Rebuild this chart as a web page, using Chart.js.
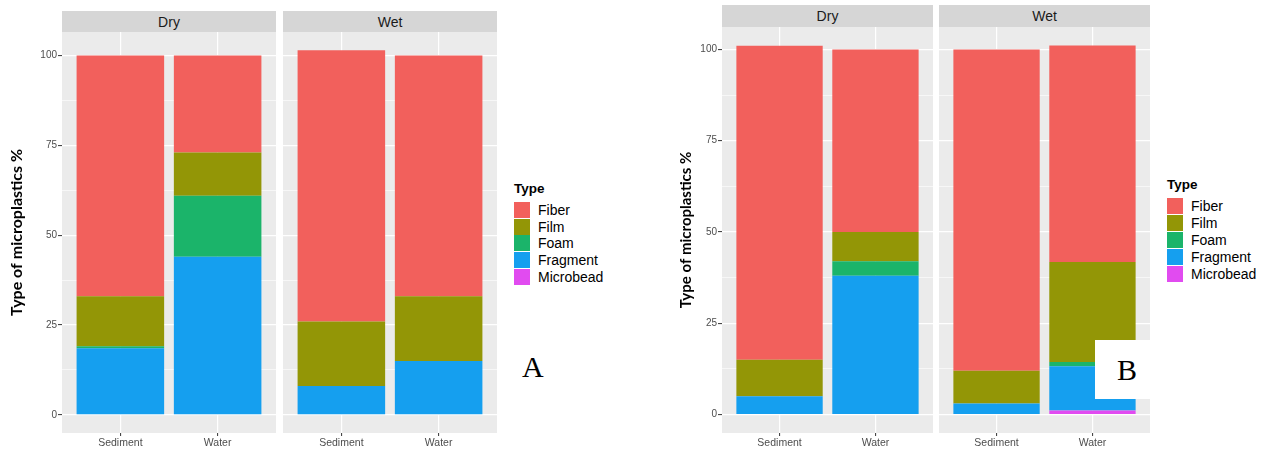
<!DOCTYPE html>
<html>
<head>
<meta charset="utf-8">
<script src="https://cdn.jsdelivr.net/npm/chart.js@4.4.1/dist/chart.umd.min.js"></script>
<style>
html,body{margin:0;padding:0;background:#fff;}
body{width:1262px;height:450px;position:relative;overflow:hidden;font-family:"Liberation Sans",Arial,sans-serif;}
canvas{position:absolute;}
.strip{position:absolute;background:#D6D6D6;color:#1A1A1A;font-size:14px;text-align:center;}
.ltitle{position:absolute;font-weight:bold;font-size:13.5px;color:#000;line-height:16px;}
.key{position:absolute;width:16px;height:16px;}
.klab{position:absolute;font-size:14px;color:#000;line-height:16px;white-space:nowrap;}
.big{position:absolute;font-family:"Liberation Serif","Times New Roman",serif;font-size:30px;line-height:30px;color:#000;background:#fff;}
</style>
</head>
<body>
<script>
// ---------------- data ----------------
const groups = ['Sediment', 'Water'];
const conditions = ['Dry', 'Wet'];
const types = ['Fiber', 'Film', 'Foam', 'Fragment', 'Microbead'];
const typeColors = ['#F2605C', '#939606', '#1BB46A', '#159FEF', '#E14BF0'];
const yMajorTicks = [0, 25, 50, 75, 100];
const yMinorTicks = [12.5, 37.5, 62.5, 87.5];
const yTitle = 'Type of microplastics %';
const legendTitle = 'Type';
const figureLabels = ['A', 'B'];

// each array: [Dry Sediment, Dry Water, Wet Sediment, Wet Water]  (%)
const fiberA     = [67, 27, 75.5, 67];
const filmA      = [13.9, 12, 18, 18];
const foamA      = [0.6, 17, 0, 0];
const fragmentA  = [18.5, 44, 8, 15];
const microbeadA = [0, 0, 0, 0];

const fiberB     = [86, 50, 88, 59.3];
const filmB      = [10, 8, 9, 27.4];
const foamB      = [0, 4, 0, 1.2];
const fragmentB  = [5, 38, 3, 12.1];
const microbeadB = [0, 0, 0, 1.1];

// ---------------- layout ----------------
const PANEL_BOTTOM = 433;
const XAXIS_H = 18;
const figures = [
  { series: [fiberA, filmA, foamA, fragmentA, microbeadA],
    panelTop: 32, stripTop: 11, stripH: 21,
    dryLeft: 0, axisW: 62, panelW: 214, wetLeft: 283,
    titleSize: 16, titlePad: 7,
    legX: 514, legTitleY: 181, legKeyY: 202, legStep: 16.7,
    label: {x: 522, y: 352, w: 26, h: 30, padL: 0} },
  { series: [fiberB, filmB, foamB, fragmentB, microbeadB],
    panelTop: 27, stripTop: 5, stripH: 22,
    dryLeft: 670, axisW: 52, panelW: 211, wetLeft: 939,
    titleSize: 15, titlePad: 7,
    legX: 1167, legTitleY: 177, legKeyY: 198, legStep: 17,
    label: {x: 1095, y: 340, w: 68, h: 59, padL: 22} }
];

const panelBg = {
  id: 'panelBg',
  beforeDraw(c) {
    const a = c.chartArea, ctx = c.ctx;
    ctx.save();
    ctx.fillStyle = '#EBEBEB';
    ctx.fillRect(a.left, a.top, a.right - a.left, a.bottom - a.top);
    ctx.restore();
  }
};

function el(tag, cls, style, text) {
  const e = document.createElement(tag);
  if (cls) e.className = cls;
  Object.assign(e.style, style);
  if (text !== undefined) e.textContent = text;
  document.body.appendChild(e);
  return e;
}

const isMajor = v => yMajorTicks.includes(v);
const noPad = s => { s.paddingTop = 0; s.paddingBottom = 0; s.paddingLeft = 0; s.paddingRight = 0; };

function makeFacet(fig, facetIdx, yMin, yMax) {
  const showAxis = facetIdx === 0;
  const left = showAxis ? fig.dryLeft : fig.wetLeft;
  const cw = showAxis ? (fig.axisW + fig.panelW) : fig.panelW;
  const ch = PANEL_BOTTOM - fig.panelTop + XAXIS_H;
  const cv = document.createElement('canvas');
  cv.width = cw; cv.height = ch;
  cv.style.left = left + 'px'; cv.style.top = fig.panelTop + 'px';
  cv.style.width = cw + 'px'; cv.style.height = ch + 'px';
  document.body.appendChild(cv);

  const datasets = types.map((t, i) => ({
    label: t,
    backgroundColor: typeColors[i],
    borderWidth: 0,
    stack: 's',
    categoryPercentage: 0.9,
    barPercentage: 1,
    data: groups.map((g, j) => ({ x: j + 1, y: fig.series[i][facetIdx * 2 + j] }))
  })).reverse();

  new Chart(cv, {
    type: 'bar',
    data: { datasets },
    options: {
      responsive: false, animation: false, devicePixelRatio: 1,
      layout: { padding: 0 },
      plugins: { legend: { display: false }, tooltip: { enabled: false } },
      scales: {
        x: {
          type: 'linear', min: 0.4, max: 2.6, offset: false,
          afterBuildTicks: s => { s.ticks = groups.map((g, j) => ({ value: j + 1 })); },
          afterFit: s => { s.height = XAXIS_H; noPad(s); },
          ticks: { callback: v => groups[v - 1], color: '#4D4D4D', autoSkip: false, maxRotation: 0,
                   padding: 1, font: { family: 'Liberation Sans', size: 10.5 } },
          grid: { offset: false, color: '#FFFFFF', lineWidth: 1.2, tickColor: '#333333', tickWidth: 1, tickLength: 3 },
          border: { display: false }
        },
        y: {
          type: 'linear', stacked: true, min: yMin, max: yMax,
          afterBuildTicks: s => { s.ticks = yMajorTicks.concat(yMinorTicks).sort((a, b) => a - b).map(v => ({ value: v })); },
          afterFit: s => { s.width = showAxis ? fig.axisW : 0; noPad(s); },
          ticks: { display: showAxis, autoSkip: false, padding: 1, color: '#4D4D4D',
                   font: { family: 'Liberation Sans', size: 10 },
                   callback: v => isMajor(v) ? String(v) : '' },
          grid: { offset: false, color: '#FFFFFF',
                  lineWidth: c => isMajor(c.tick.value) ? 1.2 : 0.6,
                  tickColor: c => isMajor(c.tick.value) ? '#333333' : 'rgba(0,0,0,0)',
                  tickWidth: 1, tickLength: 4, drawTicks: showAxis },
          border: { display: false },
          title: { display: showAxis, text: yTitle, color: '#000',
                   font: { family: 'Lato', weight: 'bold', size: fig.titleSize },
                   padding: { top: fig.titlePad, bottom: 0 } }
        }
      }
    },
    plugins: [panelBg]
  });

  // facet strip
  const px = showAxis ? fig.dryLeft + fig.axisW : fig.wetLeft;
  el('div', 'strip', { left: px + 'px', top: fig.stripTop + 'px', width: fig.panelW + 'px',
    height: fig.stripH + 'px', lineHeight: (fig.stripH + 1) + 'px' }, conditions[facetIdx]);
}

figures.forEach((fig, fi) => {
  // y range: ggplot-like 5% expansion of the data range
  let maxTotal = 0;
  for (let k = 0; k < 4; k++) {
    let s = 0; fig.series.forEach(a => s += a[k]); maxTotal = Math.max(maxTotal, s);
  }
  const yMin = -0.05 * maxTotal, yMax = 1.05 * maxTotal;
  makeFacet(fig, 0, yMin, yMax);
  makeFacet(fig, 1, yMin, yMax);

  // legend
  el('div', 'ltitle', { left: fig.legX + 'px', top: fig.legTitleY + 'px' }, legendTitle);
  types.forEach((t, i) => {
    const y = fig.legKeyY + i * fig.legStep;
    el('div', 'key', { left: fig.legX + 'px', top: y + 'px', background: typeColors[i] });
    el('div', 'klab', { left: (fig.legX + 24) + 'px', top: y + 'px' }, t);
  });

  // figure label
  const L = fig.label;
  el('div', 'big', { left: L.x + 'px', top: L.y + 'px', width: L.w + 'px', height: L.h + 'px',
    paddingLeft: L.padL + 'px', boxSizing: 'border-box', lineHeight: L.h + 'px', zIndex: 5 }, figureLabels[fi]);
});
</script>
</body>
</html>
